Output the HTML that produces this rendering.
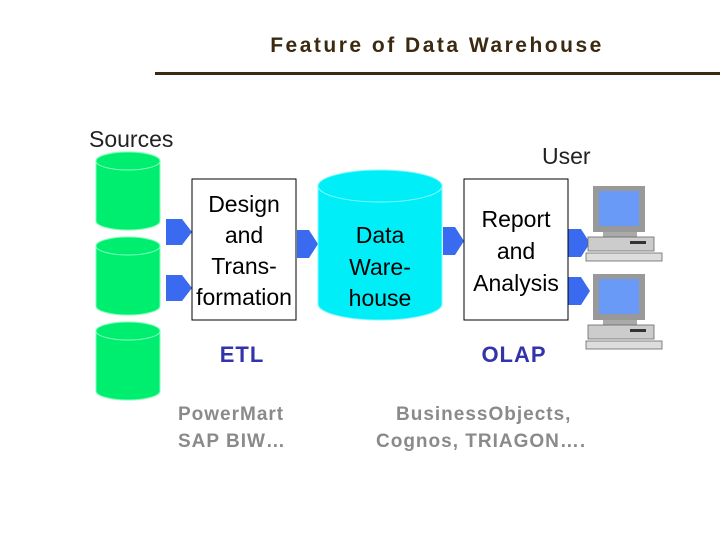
<html><body style="margin:0;background:#fff">
<svg width="720" height="540" xmlns="http://www.w3.org/2000/svg" font-family="Liberation Sans, sans-serif">
<text x="437" y="52" text-anchor="middle" font-size="21" font-weight="bold" fill="#3b2a10" letter-spacing="2.5">Feature of Data Warehouse</text>
<rect x="155" y="72" width="565" height="3" fill="#3b2a10"/>
<text x="89" y="147" font-size="23" fill="#222">Sources</text>
<text x="542" y="164" font-size="23" fill="#222">User</text>
<g fill="#00ee70" stroke="#80ffb8" stroke-width="1">
<path d="M96,161 a32,9 0 0 1 64,0 v60 a32,9 0 0 1 -64,0 z"/><path d="M96,161 a32,9 0 0 0 64,0" fill="none"/>
<path d="M96,246 a32,9 0 0 1 64,0 v60 a32,9 0 0 1 -64,0 z"/><path d="M96,246 a32,9 0 0 0 64,0" fill="none"/>
<path d="M96,331 a32,9 0 0 1 64,0 v60 a32,9 0 0 1 -64,0 z"/><path d="M96,331 a32,9 0 0 0 64,0" fill="none"/>
</g>
<g fill="#3a6af0">
<path d="M166,219 h16 l10,13 l-10,13 h-16 z"/>
<path d="M166,275 h16 l10,13 l-10,13 h-16 z"/>
<path d="M297,230 h12 l9,14 l-9,14 h-12 z"/>
<path d="M443,227 h12 l9,14 l-9,14 h-12 z"/>
<path d="M568,229 h13 l9,14 l-9,14 h-13 z"/>
<path d="M568,277 h13 l9,14 l-9,14 h-13 z"/>
</g>
<rect x="192" y="179" width="104" height="141" fill="#fff" stroke="#000" stroke-width="1"/>
<g font-size="23" fill="#000" text-anchor="middle">
<text x="244" y="212">Design</text><text x="244" y="243">and</text><text x="244" y="274">Trans-</text><text x="244" y="305">formation</text>
</g>
<path d="M318,186 a62,16 0 0 1 124,0 v118 a62,16 0 0 1 -124,0 z" fill="#00eef8" stroke="#80f8ff"/>
<path d="M318,186 a62,16 0 0 0 124,0" fill="none" stroke="#80f8ff"/>
<g font-size="23" fill="#000" text-anchor="middle">
<text x="380" y="243">Data</text><text x="380" y="275">Ware-</text><text x="380" y="306">house</text>
</g>
<rect x="464" y="179" width="104" height="141" fill="#fff" stroke="#000"/>
<g font-size="23" fill="#000" text-anchor="middle">
<text x="516" y="227">Report</text><text x="516" y="259">and</text><text x="516" y="291">Analysis</text>
</g>
<g id="pc">
<rect x="593" y="186" width="52" height="46" fill="#999"/>
<rect x="599" y="191" width="40" height="35" fill="#6a9af8"/>
<rect x="603" y="232" width="34" height="5" fill="#aaa"/>
<rect x="588" y="237" width="66" height="14" fill="#ccc" stroke="#666" stroke-width="0.8"/>
<rect x="630" y="241" width="16" height="3" fill="#333"/>
<rect x="586" y="253" width="76" height="8" fill="#ddd" stroke="#666" stroke-width="0.8"/>
</g>
<use href="#pc" y="88"/>
<text x="242" y="362" font-size="22" font-weight="bold" fill="#3333aa" text-anchor="middle" letter-spacing="1">ETL</text>
<text x="514" y="362" font-size="22" font-weight="bold" fill="#3333aa" text-anchor="middle" letter-spacing="1">OLAP</text>
<g font-size="19" font-weight="bold" fill="#8a8a8a" letter-spacing="1">
<text x="178" y="420">PowerMart</text><text x="178" y="447">SAP BIW…</text>
<text x="396" y="420">BusinessObjects,</text><text x="376" y="447">Cognos, TRIAGON….</text>
</g>
</svg>
</body></html>
